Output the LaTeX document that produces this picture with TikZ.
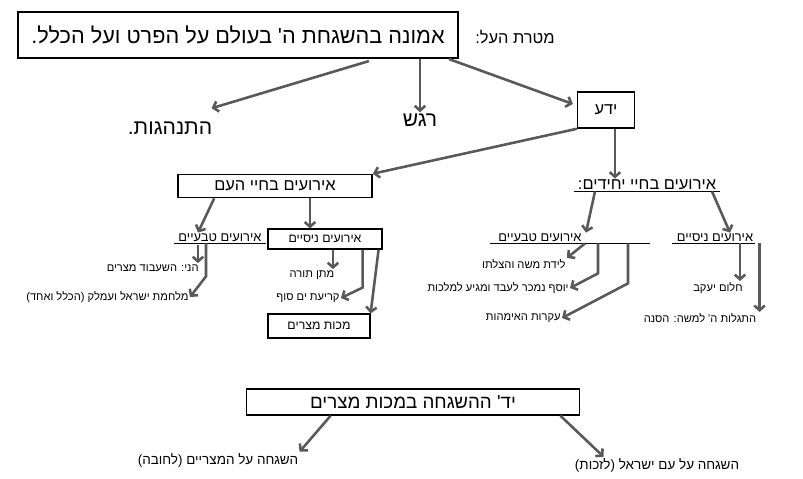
\documentclass[tikz,border=0pt]{standalone}
\usepackage{fontspec}
\setmainfont{Liberation Sans}
\newfontfamily\heb[Script=Hebrew]{Liberation Sans}
\usetikzlibrary{arrows.meta, positioning, calc}
\TeXXeTstate=1
\newcommand{\hb}[1]{\beginR #1\endR}

\begin{document}
\begin{tikzpicture}[x=0.03cm, y=-0.03cm,
  bigbox/.style={draw, line width=1.8pt, inner sep=3pt, font=\heb\fontsize{18.5}{22}\selectfont},
  midbox/.style={draw, line width=1.3pt, inner sep=3pt, font=\heb\fontsize{14}{16}\selectfont},
  smallbox/.style={draw, line width=1pt, inner sep=2pt, font=\heb\fontsize{10.5}{12}\selectfont},
  bigtxt/.style={inner sep=1pt, font=\heb\fontsize{18}{20}\selectfont},
  midtxt/.style={inner sep=1pt, font=\heb\fontsize{14}{16}\selectfont},
  subtxt/.style={inner sep=1pt, font=\heb\fontsize{11}{13}\selectfont},
  itemtxt/.style={inner sep=1pt, font=\heb\fontsize{9.5}{11}\selectfont},
  lowtxt/.style={inner sep=1pt, font=\heb\fontsize{11.5}{13}\selectfont},
  arr/.style={-{Straight Barb[length=4pt,width=9pt]}, line width=2.2pt, draw=black!65},
  uline/.style={line width=0.7pt}
]
\useasboundingbox (0,0) rectangle (803,479);

\node[bigbox, minimum width=13.2cm, minimum height=1.38cm] (goal) at (238,35) {\hb{אמונה בהשגחת ה' בעולם על הפרט ועל הכלל.}};
\node[midtxt] (goaltag) at (515,37) {\hb{מטרת העל:}};

\node[bigtxt] (behav) at (170,128) {\hb{התנהגות.}};
\node[bigtxt] (feel) at (420,120) {\hb{רגש}};
\node[midbox, minimum width=1.7cm, minimum height=1.08cm] (know) at (606,110) {\hb{ידע}};

\draw[arr] ($(goal.south west)+(352,2)$) -- ($(behav.north east)+(-2,-12)$);
\draw[arr] (feel.north |- goal.south) -- (feel.north);
\draw[arr] ($(goal.south west)+(432,0)$) -- ($(know.west)+(-4,-6)$);

% individuals
\node[midtxt] (indiv) at (647,185) {\hb{אירועים בחיי יחידים:}};
\draw[uline] ([xshift=-2pt]indiv.south west) -- ([xshift=2pt]indiv.south east);
\coordinate (k1) at ($(know.south)+(9,0)$);
\draw[arr] (k1) -- (k1 |- indiv.north);

\node[subtxt] (inat) at (540,238) {\hb{אירועים טבעיים}};
\draw[uline] ($(inat.south west)+(-7,0)$) -- ($(inat.south east)+(67,0)$);
\node[subtxt] (imir) at (715,238) {\hb{אירועים ניסיים}};
\draw[uline] ($(imir.south west)+(-3,0)$) -- ($(imir.south east)+(0,0)$);
\draw[arr] ($(indiv.south)+(-52,0)$) -- ($(inat.north east)+(3,0)$);
\draw[arr] ($(indiv.south)+(65,0)$) -- ($(imir.north)+(15,0)$);

\node[itemtxt, anchor=east] (moses) at (567,264) {\hb{לידת משה והצלתו}};
\node[itemtxt, anchor=east] (joseph) at (570,288) {\hb{יוסף נמכר לעבד ומגיע למלכות}};
\node[itemtxt, anchor=east] (barren) at (562,318) {\hb{עקרות האימהות}};
\draw[arr] ($(inat.south east)+(2,0)$) -- (moses.north east);
\draw[arr] ($(inat.south east)+(15,0)$) -- ++(0,30) -- (joseph.east);
\draw[arr] ($(inat.south east)+(45,0)$) -- ++(0,40) -- (barren.east);

\node[itemtxt] (jacob) at (718,288) {\hb{חלום יעקב}};
\node[itemtxt] (bush) at (700,318) {\hb{התגלות ה' למשה: הסנה}};
\coordinate (k2) at ($(imir.south)+(25,0)$);
\draw[arr] (k2) -- (k2 |- jacob.north);
\coordinate (k3) at ($(imir.south east)+(5,0)$);
\draw[arr] (k3) -- (k3 |- bush.north);

% nation
\node[midbox, minimum width=5.82cm, minimum height=0.69cm] (nation) at (275,186) {\hb{אירועים בחיי העם}};
\draw[arr] (know.south west) -- (nation.north east);

\node[smallbox, minimum width=3.42cm, minimum height=0.6cm] (nmir) at (325,239) {\hb{אירועים ניסיים}};
\node[subtxt] (nnat) at (220,238) {\hb{אירועים טבעיים}};
\draw[uline] ($(nnat.south west)+(-3,0)$) -- ($(nnat.south east)+(3,0)$);
\coordinate (k4) at ($(nation.south)+(35,0)$);
\draw[arr] (k4) -- (k4 |- nmir.north);
\draw[arr] ($(nation.south west)+(37,0)$) -- ($(nnat.north)+(-22,0)$);

\node[itemtxt, anchor=east] (slav) at (200,268) {\hb{הני: השעבוד מצרים}};
\node[itemtxt, anchor=east] (amal) at (190,297) {\hb{מלחמת ישראל ועמלק (הכלל ואחד)}};
\draw[arr] ($(nnat.south)+(-22,2)$) -- ($(slav.north east)+(-2,0)$);
\draw[arr] ($(nnat.south)+(-14,0)$) -- ++(0,33) -- (amal.east);

\node[itemtxt] (torah) at (312,275) {\hb{מתן תורה}};
\node[itemtxt] (sea) at (308,298) {\hb{קריעת ים סוף}};
\node[smallbox, minimum width=3.06cm, minimum height=0.72cm] (plagues) at (319,326) {\hb{מכות מצרים}};
\coordinate (k5) at ($(nmir.south)+(8,0)$);
\draw[arr] (k5) -- (k5 |- torah.north);
\draw[arr] ($(nmir.south east)+(-20,0)$) -- ++(0,38) -- (sea.east);
\draw[arr] ($(nmir.south east)+(-4,0)$) -- (plagues.north east);

% bottom
\node[midbox, minimum width=10cm, minimum height=0.78cm, font=\heb\fontsize{16}{18}\selectfont] (hand) at (413,402) {\hb{יד' ההשגחה במכות מצרים}};
\node[lowtxt] (egypt) at (218,460) {\hb{השגחה על המצריים (לחובה)}};
\node[lowtxt] (israel) at (657,465) {\hb{השגחה על עם ישראל (לזכות)}};
\draw[arr] ($(hand.south west)+(85,0)$) -- (egypt.north east);
\draw[arr] ($(hand.south east)+(-20,0)$) -- ($(israel.north west)+(30,0)$);
\end{tikzpicture}
\end{document}
